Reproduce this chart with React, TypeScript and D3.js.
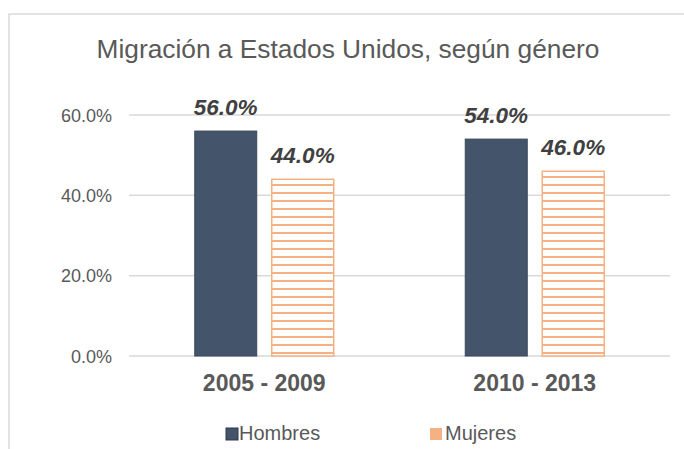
import React from "react";
import * as d3 from "d3";

const categories = ["2005 - 2009", "2010 - 2013"];
const seriesNames = ["Hombres", "Mujeres"];
const hombres = [0.56, 0.54];
const mujeres = [0.44, 0.46];
const yTicks = [0, 0.2, 0.4, 0.6];
const title = "Migración a Estados Unidos, según género";

const W = 684;
const H = 449;
const FONT = "'Liberation Sans', Arial, sans-serif";
const DARK = "#44546a";
const ORANGE = "#f4b183";

export default function App() {
  const x = d3.scaleBand<string>().domain(categories).range([129, 670]).padding(0);
  const y = d3.scaleLinear().domain([0, 0.6]).range([356, 115]);
  const fmt = d3.format(".1%");
  const values = [hombres, mujeres];
  const groupW = 139;

  return (
    <svg width={W} height={H} style={{ position: "absolute", left: 0, top: 0 }} fontFamily={FONT}>
      <defs>
        <pattern id="hstripe" patternUnits="userSpaceOnUse" x={0} y={0} width={8} height={8}>
          <rect x={0} y={0} width={8} height={8} fill="#ffffff" />
          <rect x={0} y={0} width={8} height={2} fill={ORANGE} />
        </pattern>
      </defs>
      <rect x={0} y={0} width={W} height={H} fill="#ffffff" />
      <rect x={9} y={14} width={800} height={600} fill="none" stroke="#d9d9d9" strokeWidth={1.5} />
      <text x={348} y={58} textAnchor="middle" fontSize={26.3} fill="#595959">{title}</text>
      {yTicks.map((t) => (
        <g key={t}>
          <line x1={129} x2={670} y1={y(t)} y2={y(t)} stroke="#d9d9d9" strokeWidth={1.5} />
          <text x={112} y={y(t) + 6.5} textAnchor="end" fontSize={18} fill="#595959">{fmt(t)}</text>
        </g>
      ))}
      {categories.map((c, i) => {
        const cx = (x(c) as number) + x.bandwidth() / 2;
        const inner = d3
          .scaleBand<string>()
          .domain(seriesNames)
          .range([cx - groupW / 2, cx + groupW / 2])
          .paddingInner(0.195);
        return (
          <g key={c}>
            {seriesNames.map((s, si) => {
              const v = values[si][i];
              const bx = inner(s) as number;
              const bw = inner.bandwidth();
              const top = y(v);
              return (
                <g key={s}>
                  <rect
                    x={bx}
                    y={top}
                    width={bw}
                    height={y(0) - top}
                    fill={si === 0 ? DARK : "url(#hstripe)"}
                    stroke={si === 0 ? "#3a4759" : ORANGE}
                    strokeWidth={si === 0 ? 1 : 1.5}
                  />
                  <text
                    x={bx + bw / 2}
                    y={top - 16}
                    textAnchor="middle"
                    fontSize={22.5}
                    fontWeight="bold"
                    fontStyle="italic"
                    fill="#404040"
                  >
                    {fmt(v)}
                  </text>
                </g>
              );
            })}
            <text x={cx} y={391} textAnchor="middle" fontSize={23} fontWeight="bold" fill="#595959">
              {c}
            </text>
          </g>
        );
      })}
      <g>
        <rect x={226} y={428} width={12} height={12} fill={DARK} stroke="#2f3a4a" strokeWidth={1} />
        <text x={239} y={440} fontSize={20} fill="#595959">{seriesNames[0]}</text>
        <rect x={430} y={428} width={12} height={12} fill={ORANGE} />
        <text x={445} y={440} fontSize={20} fill="#595959">{seriesNames[1]}</text>
      </g>
    </svg>
  );
}
